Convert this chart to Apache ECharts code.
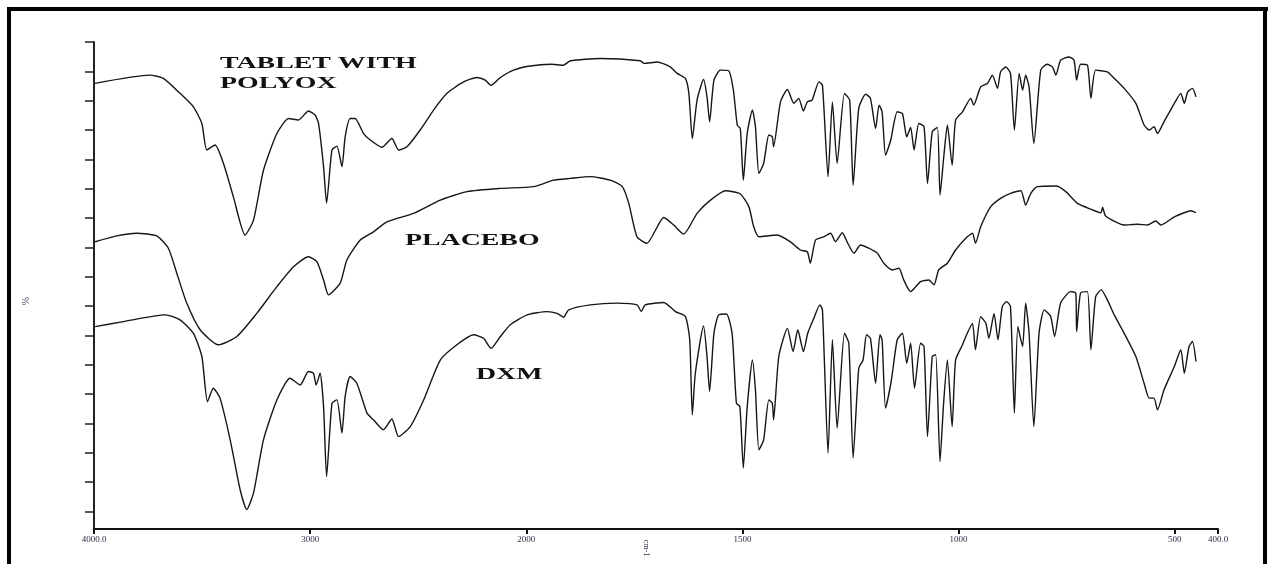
<!DOCTYPE html>
<html>
<head>
<meta charset="utf-8">
<title>IR spectra</title>
<script src="https://cdn.jsdelivr.net/npm/echarts@6/dist/echarts.min.js"></script>
<style>
	html, body { margin: 0; padding: 0; background: #fff; }
	#chart { width: 1274px; height: 564px; }
</style>
</head>
<body>
<div id="chart"></div>
<script>
// wavenumber (cm-1) and trace height (arbitrary %T units, offset per trace)
var tabletWn = [3995,3741,3679,3602,3540,3501,3478,3440,3401,3355,3301,3262,3216,3154,3100,3054,3008,2977,2961,2938,2924,2899,2876,2853,2838,2815,2792,2753,2722,2668,2622,2591,2552,2491,2429,2367,2290,2228,2190,2163,2120,2059,1991,1944,1914,1898,1829,1736,1728,1697,1667,1651,1632,1624,1616,1605,1590,1582,1576,1566,1551,1532,1521,1512,1505,1498,1489,1477,1470,1462,1451,1439,1431,1428,1412,1396,1381,1370,1359,1350,1339,1323,1315,1302,1292,1281,1264,1252,1244,1231,1215,1204,1192,1184,1177,1169,1157,1142,1130,1120,1111,1103,1092,1080,1072,1061,1049,1043,1034,1026,1015,1007,991,972,965,949,933,922,910,903,891,880,871,860,852,845,837,826,810,795,783,775,764,745,733,727,718,702,694,683,656,640,617,590,571,559,548,540,525,501,486,478,470,459,451];
var tabletT = [151.9,154.7,153.6,148.5,143.9,138.2,129.2,130.9,124.6,113.2,100.2,105.3,122.3,134.8,139.9,139.4,142.5,141.1,138.2,123.5,111.1,129.2,130.5,123.5,133.7,139.9,139.9,134.8,132.6,130.1,133.1,129.2,130.3,136.0,142.8,148.5,152.4,153.9,153.0,151.2,153.9,156.4,157.8,158.4,158.1,159.6,160.4,159.6,158.7,159.2,157.5,155.3,153.6,148.5,133.1,146.2,153.2,147.3,138.8,153.0,156.4,156.2,149.6,137.7,136.5,118.9,134.8,142.8,137.1,121.2,124.6,134.3,133.7,130.3,145.6,149.8,145.1,146.8,142.5,145.6,146.2,152.4,151.3,120.1,145.6,124.6,148.5,146.2,117.2,143.4,148.2,146.8,136.5,144.5,142.2,127.4,132.6,142.2,141.6,133.7,136.9,129.2,138.2,137.1,117.8,135.4,136.9,113.8,127.4,137.7,124.0,139.4,142.2,146.8,144.5,150.7,151.9,154.7,150.2,155.8,157.5,155.3,136.0,155.3,149.6,154.7,150.7,131.4,156.4,158.4,157.5,154.7,159.8,160.9,159.8,153.0,158.4,158.1,146.8,156.4,155.8,153.6,150.2,145.1,137.7,136.0,137.1,134.8,138.8,145.1,148.5,145.1,149.0,150.2,147.3];

var placeboWn = [3995,3895,3802,3710,3656,3617,3571,3509,3424,3339,3247,3154,3077,3008,2969,2938,2915,2861,2830,2768,2707,2645,2522,2398,2274,2120,1983,1937,1898,1852,1806,1778,1763,1744,1721,1682,1659,1636,1605,1574,1539,1505,1485,1474,1462,1420,1389,1366,1350,1343,1331,1312,1296,1285,1269,1258,1242,1227,1208,1188,1173,1153,1138,1127,1111,1088,1069,1057,1046,1026,1007,980,968,961,949,926,903,880,856,845,833,818,775,752,725,694,671,667,660,617,586,563,544,532,501,478,463,451];
var placeboT = [97.9,99.9,100.8,99.9,95.7,87.2,77.0,67.9,62.8,65.6,73.5,82.6,89.4,92.8,91.1,84.9,79.8,83.8,91.7,98.5,101.3,104.7,107.6,112.1,115.0,116.1,116.7,118.9,119.5,120.1,118.9,116.7,111.0,99.6,97.4,106.2,103.6,100.5,107.6,112.1,115.3,114.2,109.8,103.0,99.6,100.2,97.9,95.1,94.5,90.6,98.5,99.6,100.8,97.9,101.0,97.9,94.0,96.8,95.7,94.0,90.6,88.3,88.9,84.9,80.9,84.3,84.9,83.2,88.3,90.6,95.1,99.6,100.8,97.4,103.0,109.8,112.7,114.4,115.3,110.4,114.4,116.7,116.9,115.0,111.0,109.0,107.8,109.7,106.7,103.6,103.9,103.6,105.0,103.6,106.4,107.8,108.5,107.8];

var dxmWn = [3995,3864,3671,3602,3540,3501,3475,3448,3417,3370,3324,3293,3262,3216,3154,3093,3046,3008,2985,2972,2954,2938,2924,2899,2876,2853,2838,2815,2784,2737,2707,2661,2622,2591,2537,2475,2398,2321,2244,2198,2163,2120,2074,1998,1952,1929,1914,1902,1852,1790,1744,1734,1725,1682,1655,1632,1622,1616,1609,1590,1582,1576,1566,1555,1537,1524,1514,1506,1498,1489,1477,1470,1462,1451,1439,1431,1428,1416,1396,1383,1372,1359,1349,1335,1321,1315,1302,1292,1281,1264,1254,1244,1231,1221,1213,1204,1192,1182,1177,1169,1156,1142,1130,1120,1111,1102,1088,1080,1072,1061,1053,1043,1035,1026,1015,1007,991,980,968,961,949,937,930,918,909,899,889,880,871,863,852,845,837,826,814,802,787,778,764,741,729,727,718,702,694,683,670,656,640,617,590,571,559,548,540,525,501,486,478,467,459,451];
var dxmT = [69.0,70.7,73.0,71.3,66.7,58.8,43.4,48.0,44.6,30.4,13.4,6.6,12.3,30.4,44.0,51.4,49.1,53.7,53.1,49.1,53.1,41.7,17.9,42.9,44.0,32.7,45.2,52.0,49.7,39.5,37.2,33.8,37.5,31.5,34.9,44.0,57.6,62.8,66.2,65.0,61.6,65.6,69.6,73.0,74.1,73.5,72.2,74.7,76.4,77.0,76.4,74.1,76.4,77.2,74.1,72.4,64.5,38.9,53.1,69.2,58.8,46.9,66.7,73.0,73.3,66.7,42.9,41.7,20.8,41.7,57.6,47.4,27.0,30.4,44.0,42.9,37.2,58.8,68.4,60.5,67.9,60.5,66.7,71.8,76.4,74.7,25.9,64.5,34.4,66.7,63.3,24.2,54.8,57.6,66.2,65.0,49.7,66.2,64.5,41.2,50.3,64.5,66.7,56.5,63.3,48.0,63.3,62.2,31.5,58.8,59.4,23.0,42.3,57.6,34.9,57.6,62.8,66.7,70.1,61.1,72.4,70.1,65.0,73.5,64.5,75.8,77.5,75.8,39.5,69.0,62.2,77.0,66.7,34.9,66.7,74.7,72.4,65.6,77.0,80.9,80.4,67.3,80.4,80.9,61.1,79.2,81.5,78.1,73.0,66.7,58.8,49.7,44.6,44.6,40.6,47.4,55.4,61.1,53.1,62.2,63.9,57.1];

// x axis ticks
var xTickWn = [4000, 3000, 2000, 1500, 1000, 500, 400];
var xTickLabels = ['4000.0', '3000', '2000', '1500', '1000', '500', '400.0'];
// y axis ticks (no labels on the original)
var yTicks = [6, 16, 26, 36, 46, 56, 66, 76, 86, 96, 106, 116, 126, 136, 146, 156, 166];

// the spectrometer halves the scale above 2000 cm-1
function toAxis(wn) {
	return wn <= 2000 ? wn : 2000 + (wn - 2000) / 2;
}
function fromAxis(u) {
	return u <= 2000 ? u : 2000 + (u - 2000) * 2;
}
function pairs(wn, t) {
	let out = [];
	for (var i = 0; i < wn.length; i++) {
		out.push([toAxis(wn[i]), t[i]]);
	}
	return out;
}

var lineStyle = { color: '#161616', width: 1.4 };
function trace(name, wn, t) {
	return {
		name: name,
		type: 'line',
		data: pairs(wn, t),
		showSymbol: false,
		symbol: 'none',
		smooth: 0.2,
		lineStyle: lineStyle,
		silent: true
	};
}

var labelFont = '"Liberation Serif", "DejaVu Serif", serif';
function tag(text, x, y) {
	return {
		type: 'text',
		x: x,
		y: y,
		scaleX: 1.74,
		style: {
			text: text,
			font: 'bold 16px ' + labelFont,
			fill: '#111',
			textAlign: 'left',
			textVerticalAlign: 'middle'
		}
	};
}

var myChart = echarts.init(document.getElementById('chart'));
var options = {
	animation: false,
	backgroundColor: '#fff',
	grid: { left: 94, right: 56, top: 42, bottom: 35, containLabel: false },
	xAxis: {
		type: 'value',
		min: 400,
		max: 3000,
		inverse: true,
		axisLine: { show: true, onZero: false, lineStyle: { color: '#111', width: 2 } },
		axisTick: {
			show: true,
			length: 5,
			customValues: xTickWn.map(toAxis),
			lineStyle: { color: '#111', width: 2 }
		},
		axisLabel: {
			customValues: xTickWn.map(toAxis),
			margin: 6,
			fontSize: 9,
			fontFamily: labelFont,
			color: '#2b2f4a',
			formatter: function(v) {
				let i = xTickWn.indexOf(Math.round(fromAxis(v)));
				return i >= 0 ? xTickLabels[i] : '';
			}
		},
		splitLine: { show: false }
	},
	yAxis: {
		type: 'value',
		min: 0,
		max: 166,
		axisLine: { show: true, lineStyle: { color: '#222', width: 2 } },
		axisTick: {
			show: true,
			length: 9,
			customValues: yTicks,
			lineStyle: { color: '#222', width: 1.5 }
		},
		axisLabel: { show: false },
		splitLine: { show: false }
	},
	series: [
		trace('TABLET WITH POLYOX', tabletWn, tabletT),
		trace('PLACEBO', placeboWn, placeboT),
		trace('DXM', dxmWn, dxmT)
	],
	graphic: [
		// frame round the figure
		{ type: 'rect', shape: { x: 7, y: 7, width: 4, height: 560 }, style: { fill: '#000' } },
		{ type: 'rect', shape: { x: 7, y: 7, width: 1261, height: 4 }, style: { fill: '#000' } },
		{ type: 'rect', shape: { x: 1263, y: 7, width: 4, height: 560 }, style: { fill: '#000' } },
		tag('TABLET WITH', 220, 64),
		tag('POLYOX', 220, 84),
		tag('PLACEBO', 405, 241),
		tag('DXM', 476, 375),
		{
			type: 'text', x: 26, y: 301, rotation: Math.PI / 2,
			style: { text: '%', font: '10px ' + labelFont, fill: '#3a3f5a', textAlign: 'center', textVerticalAlign: 'middle' }
		},
		{
			type: 'text', x: 646, y: 548, rotation: -Math.PI / 2,
			style: { text: 'cm-1', font: '8px ' + labelFont, fill: '#2b2f4a', textAlign: 'center', textVerticalAlign: 'middle' }
		}
	]
};
myChart.setOption(options);
</script>
</body>
</html>
